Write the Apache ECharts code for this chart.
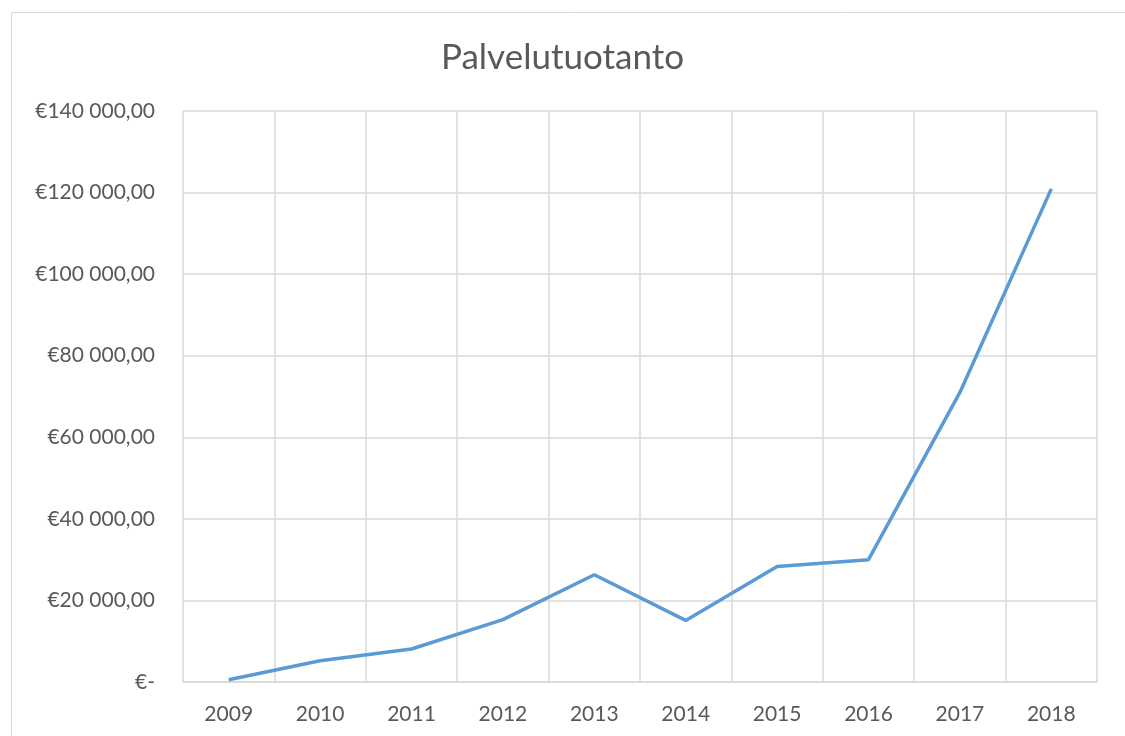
<!DOCTYPE html>
<html><head><meta charset="utf-8">
<script src="https://cdn.jsdelivr.net/npm/echarts@6/dist/echarts.min.js"></script>
<style>html,body{margin:0;padding:0;background:#fff}#c{width:1125px;height:736px}</style>
</head><body><div id="c"></div>
<script>
const years = ['2009','2010','2011','2012','2013','2014','2015','2016','2017','2018'];
const values = [560, 5200, 8100, 15300, 26300, 15100, 28300, 30000, 71000, 120900];
const yTicks = [0, 20000, 40000, 60000, 80000, 100000, 120000, 140000];

function fmt(v){
  if (v === 0) return '€-';
  const s = String(Math.round(v)).replace(/\B(?=(\d{3})+(?!\d))/g, ' ');
  return '€' + s + ',00';
}
const chart = echarts.init(document.getElementById('c'));
const F = 'Lato';
chart.setOption({
  animation: false,
  title: { text: 'Palvelutuotanto', left: 'center', top: 35,
    textStyle: { fontFamily: F, fontSize: 35, fontWeight: 'normal', color: '#595959' } },
  graphic: [{ type: 'rect', shape: { x: 11.5, y: 12.5, width: 1130, height: 760 },
    style: { fill: 'none', stroke: '#d9d9d9', lineWidth: 1 }, silent: true }],
  grid: { left: 183, right: 28, top: 111, bottom: 54 },
  xAxis: { type: 'category', data: years, boundaryGap: true,
    axisLine: { lineStyle: { color: '#d9d9d9', width: 1.5 } },
    axisTick: { show: false },
    axisLabel: { fontFamily: F, fontSize: 21, color: '#595959', margin: 22 },
    splitLine: { show: true, lineStyle: { color: '#d9d9d9', width: 1.5 } } },
  yAxis: { type: 'value', min: 0, max: yTicks[yTicks.length-1], interval: yTicks[1]-yTicks[0],
    axisLine: { show: false }, axisTick: { show: false },
    axisLabel: { fontFamily: F, fontSize: 21, color: '#595959', margin: 28, formatter: fmt },
    splitLine: { lineStyle: { color: '#d9d9d9', width: 1.5 } } },
  series: [{ type: 'line', data: values, symbol: 'none',
    lineStyle: { color: '#5b9bd5', width: 3.5 } }]
});
</script></body></html>
